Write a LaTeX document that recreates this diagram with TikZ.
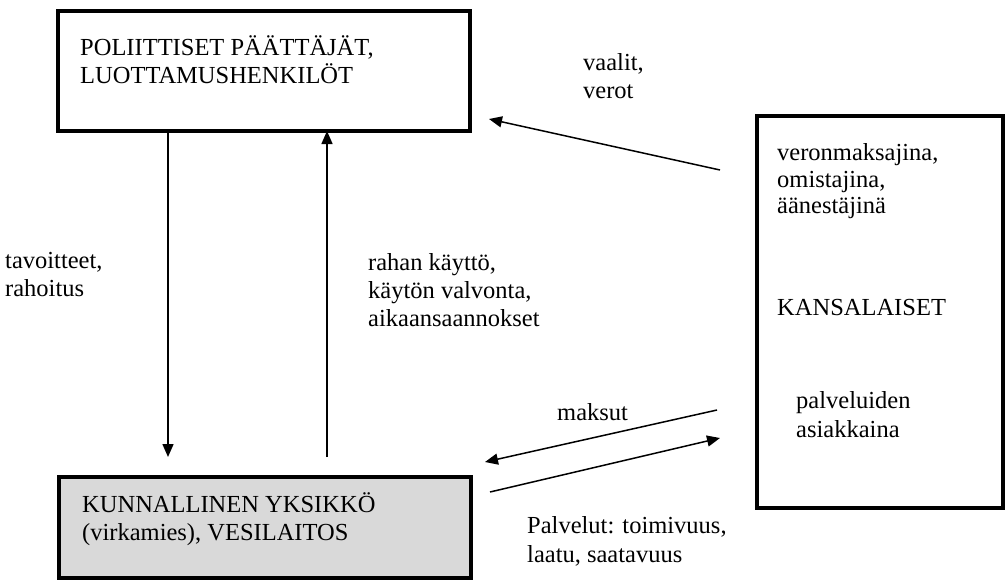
\documentclass[tikz,border=0pt]{standalone}
\usepackage{fontspec}
\setmainfont{Liberation Serif}
\usetikzlibrary{arrows.meta}
\begin{document}
\begin{tikzpicture}[x=1pt,y=-1pt,
  lbl/.style={anchor=base west, inner sep=0pt, font=\fontsize{24.5}{28}\selectfont},
  box/.style={draw, line width=4pt, inner sep=0pt, outer sep=0pt, anchor=north west},
  arr/.style={line width=1.5pt, -{Triangle[length=13pt,width=11pt]}}]
\useasboundingbox (0,0) rectangle (1008,584);

% boxes
\node[box, minimum width=412pt, minimum height=120pt] (top) at (58,11) {};
\node[box, fill=black!15, minimum width=412pt, minimum height=101pt] (unit) at (59,477) {};
\node[box, minimum width=246pt, minimum height=392pt] (kans) at (757,116) {};

% box texts
\node[lbl] (t1) at (80,55) {POLIITTISET PÄÄTTÄJÄT,};
\node[lbl] (t2) at (80,83) {LUOTTAMUSHENKILÖT};
\node[lbl] (u1) at (82,512) {KUNNALLINEN YKSIKKÖ};
\node[lbl] (u2) at (82,540) {(virkamies), VESILAITOS};
\node[lbl] (k1) at (777,160) {veronmaksajina,};
\node[lbl] (k2) at (777,187) {omistajina,};
\node[lbl] (k3) at (777,213) {äänestäjinä};
\node[lbl] (k4) at (777,315) {KANSALAISET};
\node[lbl] (k5) at (796,408) {palveluiden};
\node[lbl] (k6) at (796,437) {asiakkaina};

% connector labels
\node[lbl] (l1) at (583,70) {vaalit,};
\node[lbl] (l2) at (583,98) {verot};
\node[lbl] (l3) at (5,268) {tavoitteet,};
\node[lbl] (l4) at (5,296) {rahoitus};
\node[lbl] (l5) at (368,270) {rahan käyttö,};
\node[lbl] (l6) at (368,298) {käytön valvonta,};
\node[lbl] (l7) at (368,326) {aikaansaannokset};
\node[lbl] (l8) at (557,420) {maksut};
\node[lbl] (l9) at (527,533) {Palvelut: toimivuus,};
\node[lbl] (l10) at (527,562) {laatu, saatavuus};

% connectors
\coordinate (dnend) at (168,457);
\draw[arr] (top.south -| dnend) -- (dnend);
\coordinate (upstart) at (327,457);
\draw[arr] (upstart) -- (top.south -| upstart);
\coordinate (v0) at (720,170);
\coordinate (v1) at (489,119);
\draw[arr] (v0) -- (v1);
\coordinate (m0) at (717,410);
\coordinate (m1) at (485,462);
\draw[arr] (m0) -- (m1);
\coordinate (p0) at (490,492);
\coordinate (p1) at (720,438);
\draw[arr] (p0) -- (p1);
\end{tikzpicture}
\end{document}
